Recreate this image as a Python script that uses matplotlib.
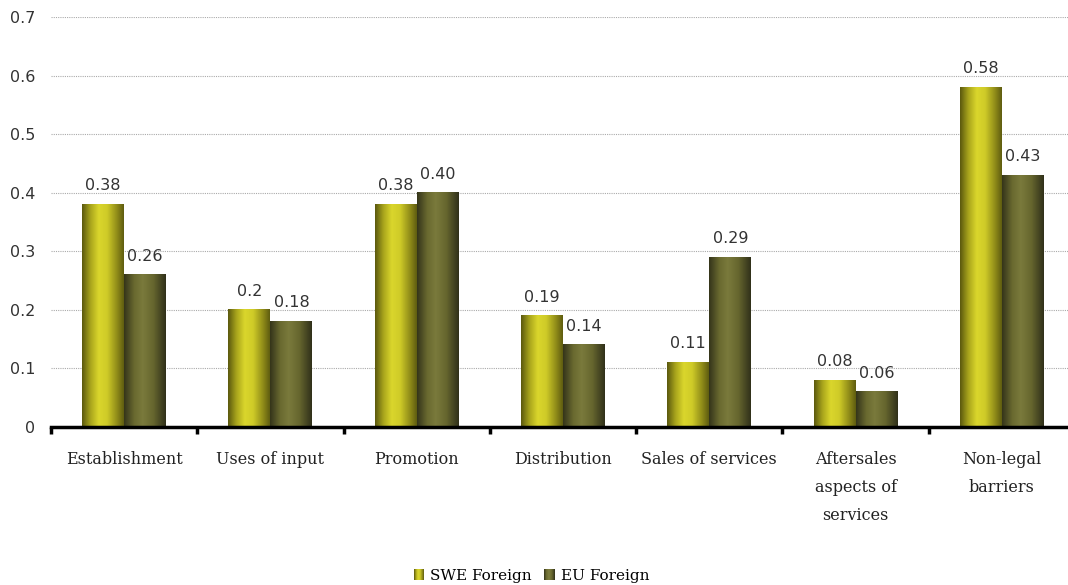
import numpy as np
import matplotlib
matplotlib.use("Agg")
import matplotlib.pyplot as plt
from matplotlib.colors import LinearSegmentedColormap
from matplotlib.legend_handler import HandlerBase
from matplotlib.patches import Rectangle

categories = ["Establishment", "Uses of input", "Promotion", "Distribution",
              "Sales of services", "Aftersales\naspects of\nservices",
              "Non-legal\nbarriers"]
swe_foreign = [0.38, 0.2, 0.38, 0.19, 0.11, 0.08, 0.58]
eu_foreign = [0.26, 0.18, 0.40, 0.14, 0.29, 0.06, 0.43]
series_names = ["SWE Foreign", "EU Foreign"]
y_ticks = [0, 0.1, 0.2, 0.3, 0.4, 0.5, 0.6, 0.7]

# cylinder-style shading across each bar (left -> right)
swe_cmap = LinearSegmentedColormap.from_list(
    "swe", [(0.0, "#5a580e"), (0.2, "#a8a41c"), (0.4, "#dad62c"),
            (0.6, "#cfcb28"), (0.85, "#8c8818"), (1.0, "#5e5c10")])
eu_cmap = LinearSegmentedColormap.from_list(
    "eu", [(0.0, "#34341a"), (0.25, "#6a6a30"), (0.45, "#7a7a3c"),
           (0.7, "#66662e"), (1.0, "#30301a")])
cmaps = [swe_cmap, eu_cmap]

fig = plt.figure(figsize=(10.68, 5.85), dpi=100)
left_px, right_px, bottom_px, top_px = 51, 1075, 427, 17
ax = fig.add_axes([left_px / 1068, 1 - bottom_px / 585,
                   (right_px - left_px) / 1068, (bottom_px - top_px) / 585])

x = np.arange(len(categories))
width = 0.287
grad = np.linspace(0, 1, 256).reshape(1, -1)

for i, (vals, cmap) in enumerate(zip([swe_foreign, eu_foreign], cmaps)):
    offs = -width if i == 0 else 0.0
    bars = ax.bar(x + offs, vals, width, align="edge", color="none",
                  edgecolor="none", zorder=2)
    for rect in bars:
        x0, y0 = rect.get_x(), rect.get_y()
        ax.imshow(grad, cmap=cmap, aspect="auto", zorder=2,
                  extent=[x0, x0 + rect.get_width(), y0, y0 + rect.get_height()],
                  interpolation="bilinear")
    for xi, v in zip(x + offs + width / 2, vals):
        lab = f"{v:g}" if i == 0 else f"{v:.2f}"
        ax.text(xi, v + 0.019, lab, ha="center", va="bottom",
                fontsize=11.5, color="#333333", family="DejaVu Sans")

ax.set_xlim(-0.5, len(categories) - 0.5)
ax.set_ylim(0, 0.7)
ax.set_yticks(y_ticks)
ax.set_yticklabels([f"{t:g}" for t in y_ticks], fontsize=11.5, color="#333333")
ax.yaxis.grid(True, linestyle=(0, (1, 1)), color="#aaaaaa", linewidth=0.8, zorder=0)
ax.set_axisbelow(True)
ax.tick_params(axis="y", length=0, pad=11.5)

for s in ["left", "right", "top"]:
    ax.spines[s].set_visible(False)
ax.spines["bottom"].set_linewidth(2.5)
ax.spines["bottom"].set_color("black")

ax.set_xticks(np.arange(len(categories) + 1) - 0.5, minor=False)
ax.set_xticklabels([])
ax.tick_params(axis="x", which="major", length=5, width=2.5, color="black")
ax.set_xticks(x, minor=True)
ax.set_xticklabels(categories, minor=True, fontsize=11.5, family="DejaVu Serif",
                   color="#222222", linespacing=1.85)
ax.tick_params(axis="x", which="minor", length=0, pad=17)


class GradientHandler(HandlerBase):
    def __init__(self, cmap):
        super().__init__()
        self.cmap = cmap

    def create_artists(self, legend, orig_handle, xdescent, ydescent, width,
                       height, fontsize, trans):
        size = height * 1.0
        x0 = width - size
        n = 10
        arts = []
        for k in range(n):
            r = Rectangle((x0 + k * size / n - xdescent, -ydescent),
                          size / n + 0.05, size,
                          facecolor=self.cmap((k + 0.5) / n), edgecolor="none",
                          transform=trans)
            arts.append(r)
        return arts


h1 = Rectangle((0, 0), 1, 1)
h2 = Rectangle((0, 0), 1, 1)
fig.legend([h1, h2], series_names, loc="center", bbox_to_anchor=(530 / 1068, 1 - 576 / 585),
           ncol=2, frameon=False, handler_map={h1: GradientHandler(swe_cmap),
                                               h2: GradientHandler(eu_cmap)},
           prop={"family": "DejaVu Serif", "size": 11}, handlelength=0.9,
           handletextpad=0.4, columnspacing=0.6)

fig.savefig("out.png", dpi=100)
